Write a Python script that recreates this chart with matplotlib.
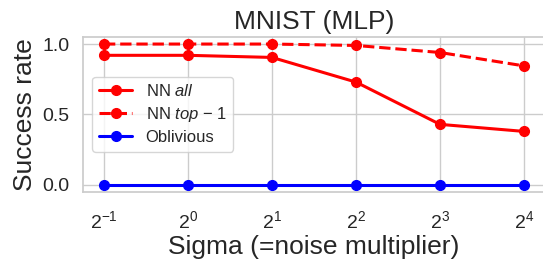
import matplotlib
matplotlib.use("Agg")
import matplotlib.pyplot as plt
import seaborn as sns

sigmas = [0.5, 1, 2, 4, 8, 16]
nn_all = [0.92, 0.92, 0.905, 0.73, 0.43, 0.38]
nn_top1 = [1.0, 1.0, 1.0, 0.99, 0.94, 0.845]
oblivious = [0.0, 0.0, 0.0, 0.0, 0.0, 0.0]
xtick_labels = [r"$2^{-1}$", r"$2^{0}$", r"$2^{1}$", r"$2^{2}$", r"$2^{3}$", r"$2^{4}$"]
yticks = [0.0, 0.5, 1.0]

sns.set_theme(style="whitegrid")
plt.rcParams['font.family'] = ['Liberation Sans', 'DejaVu Sans']
plt.rcParams['mathtext.fontset'] = 'custom'
plt.rcParams['mathtext.rm'] = 'Liberation Sans'
plt.rcParams['mathtext.it'] = 'Liberation Sans:italic'
plt.rcParams['mathtext.bf'] = 'Liberation Sans:bold'

W, H = 543, 267
fig = plt.figure(figsize=(W / 100, H / 100), dpi=100)
ax = fig.add_axes([83 / W, (H - 192) / H, (545 - 83) / W, (192 - 37) / H])

ax.plot(sigmas, nn_all, color="red", marker="o", lw=2.2, ms=7, label=r"NN $all$")
ax.plot(sigmas, nn_top1, color="red", marker="o", lw=2.2, ms=7, ls="--", label="NN $top$ \u2212 1")
ax.plot(sigmas, oblivious, color="blue", marker="o", lw=2.2, ms=7, label="Oblivious")

ax.set_xscale("log", base=2)
ax.set_xticks(sigmas)
ax.set_xticklabels(xtick_labels)
ax.minorticks_off()
ax.set_yticks(yticks)
ax.set_ylim(-0.05, 1.05)
ax.tick_params(axis="both", labelsize=14)
ax.tick_params(axis="x", pad=7)
ax.set_xlabel("Sigma (=noise multiplier)", fontsize=19, labelpad=2)
ax.set_ylabel("Success rate", fontsize=19)
ax.set_title("MNIST (MLP)", fontsize=19)
ax.legend(loc="upper left", bbox_to_anchor=(0.02, 0.745), borderaxespad=0,
          fontsize=12, labelspacing=0.35)

fig.savefig("out.png", dpi=100)
